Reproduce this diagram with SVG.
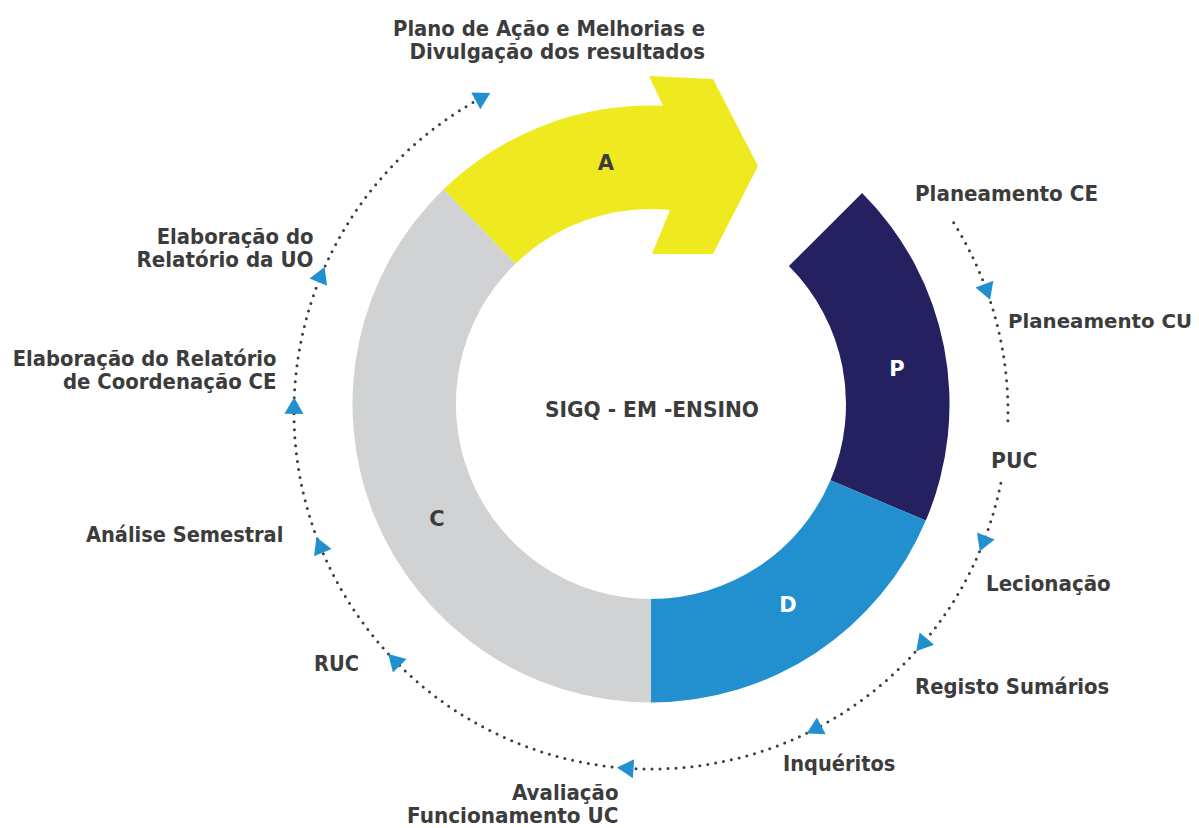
<svg xmlns="http://www.w3.org/2000/svg" width="1199" height="828" viewBox="0 0 1199 828">
  <style>
    .lbl { font-family: "DejaVu Sans", "Liberation Sans", sans-serif; font-weight: bold; font-size: 21px; fill: #3c3c3c; }
    .seg { font-family: "DejaVu Sans", "Liberation Sans", sans-serif; font-weight: bold; font-size: 21px; text-anchor: middle; }
    .dots { fill: none; stroke: #3c3c3c; stroke-width: 3; stroke-linecap: round; stroke-dasharray: 0 8; }
    .head { fill: #2290cf; }
  </style>
  <defs>
    <path id="tri" d="M11,0 L-5.5,9.5 L-5.5,-9.5 Z"/>
  </defs>
  <rect width="1199" height="828" fill="#ffffff"/>

  <g id="seg-P">
    <path d="M862.1,192.9 A298.5,298.5 0 0 1 925.8,520.6 L830.5,480.2 A195,195 0 0 0 788.9,266.1 Z" fill="#252060"/>
    <text class="seg" x="897" y="376" fill="#ffffff">P</text>
  </g>
  <g id="seg-D">
    <path d="M925.8,520.6 A298.5,298.5 0 0 1 651,702.5 L651,599 A195,195 0 0 0 830.5,480.2 Z" fill="#2290cf"/>
    <text class="seg" x="788" y="612" fill="#ffffff">D</text>
  </g>
  <g id="seg-C">
    <path d="M651,702.5 A298.5,298.5 0 0 1 443.6,189.3 L515.5,263.7 A195,195 0 0 0 651,599 Z" fill="#d1d2d4"/>
    <text class="seg" x="437" y="526" fill="#3c3c3c">C</text>
  </g>
  <g id="seg-A">
    <path d="M443.6,189.3 A298.5,298.5 0 0 1 663,105.7 L649,76 L713,79 L758,166 L713,254 L652,254 L670,209.9 A195,195 0 0 0 515.5,263.7 Z" fill="#efe920"/>
    <text class="seg" x="606" y="169.5" fill="#3c3c3c">A</text>
  </g>
  <g id="center">
    <text class="lbl" x="545" y="417" textLength="214" lengthAdjust="spacingAndGlyphs">SIGQ - EM -ENSINO</text>
  </g>

  <g id="connectors">
    <path class="dots" d="M953.7,222.8 A357,357 0 0 1 1007.6,428.2"/>
    <path class="dots" d="M1000.8,483.2 A357,357 0 1 1 480.6,98.3"/>
    <use href="#tri" class="head" transform="translate(986.3,289.3) rotate(69.9)"/>
    <use href="#tri" class="head" transform="translate(983.8,541.1) rotate(111.2)"/>
    <use href="#tri" class="head" transform="translate(923.3,642.9) rotate(130.3)"/>
    <use href="#tri" class="head" transform="translate(816.4,728.4) rotate(152.4)"/>
    <use href="#tri" class="head" transform="translate(628,768.3) rotate(183.7)"/>
    <use href="#tri" class="head" transform="translate(395.9,661.8) rotate(225.6)"/>
    <use href="#tri" class="head" transform="translate(320.7,547.5) rotate(247.7)"/>
    <use href="#tri" class="head" transform="translate(294,408.3) rotate(270.6)"/>
    <use href="#tri" class="head" transform="translate(320.4,277.1) rotate(292.2)"/>
    <use href="#tri" class="head" transform="translate(480.6,98.3) rotate(331.5)"/>
  </g>

  <g id="label-plano-acao">
    <text class="lbl" x="393" y="36" textLength="312" lengthAdjust="spacingAndGlyphs">Plano de Ação e Melhorias e</text>
    <text class="lbl" x="409.5" y="58.5" textLength="295.5" lengthAdjust="spacingAndGlyphs">Divulgação dos resultados</text>
  </g>
  <g id="label-planeamento-ce"><text class="lbl" x="915" y="201" textLength="183" lengthAdjust="spacingAndGlyphs">Planeamento CE</text></g>
  <g id="label-planeamento-cu"><text class="lbl" x="1008" y="327.5" font-size="20" style="font-size:20px" textLength="184" lengthAdjust="spacingAndGlyphs">Planeamento CU</text></g>
  <g id="label-puc"><text class="lbl" x="991" y="467.5" textLength="46.5" lengthAdjust="spacingAndGlyphs">PUC</text></g>
  <g id="label-lecionacao"><text class="lbl" x="986" y="591" textLength="124.7" lengthAdjust="spacingAndGlyphs">Lecionação</text></g>
  <g id="label-registo"><text class="lbl" x="915" y="693.5" textLength="194.3" lengthAdjust="spacingAndGlyphs">Registo Sumários</text></g>
  <g id="label-inqueritos"><text class="lbl" x="783" y="771" textLength="112.3" lengthAdjust="spacingAndGlyphs">Inquéritos</text></g>
  <g id="label-avaliacao">
    <text class="lbl" x="512" y="800" textLength="106.5" lengthAdjust="spacingAndGlyphs">Avaliação</text>
    <text class="lbl" x="407" y="822.5" textLength="211.5" lengthAdjust="spacingAndGlyphs">Funcionamento UC</text>
  </g>
  <g id="label-ruc"><text class="lbl" x="314" y="671" textLength="45" lengthAdjust="spacingAndGlyphs">RUC</text></g>
  <g id="label-analise"><text class="lbl" x="86" y="541.5" textLength="197.3" lengthAdjust="spacingAndGlyphs">Análise Semestral</text></g>
  <g id="label-coord-ce">
    <text class="lbl" x="12.7" y="365.5" textLength="263.8" lengthAdjust="spacingAndGlyphs">Elaboração do Relatório</text>
    <text class="lbl" x="63" y="389" textLength="213.5" lengthAdjust="spacingAndGlyphs">de Coordenação CE</text>
  </g>
  <g id="label-uo">
    <text class="lbl" x="156.7" y="243.5" textLength="156.8" lengthAdjust="spacingAndGlyphs">Elaboração do</text>
    <text class="lbl" x="136.5" y="266.5" textLength="177" lengthAdjust="spacingAndGlyphs">Relatório da UO</text>
  </g>
</svg>
